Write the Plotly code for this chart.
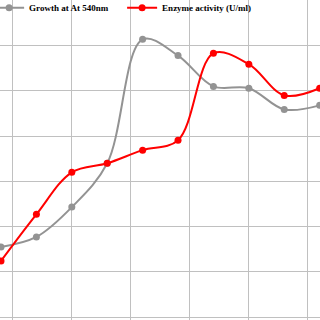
import plotly.graph_objects as go

hours = [0, 3, 6, 9, 12, 15, 18, 21, 24, 27]
growth = [1.55, 1.77, 2.43, 3.40, 6.14, 5.78, 5.10, 5.06, 4.59, 4.68]
enzyme = [1.24, 2.27, 3.20, 3.40, 3.69, 3.91, 5.83, 5.59, 4.90, 5.06]
series_names = ["Growth at At 540nm", "Enzyme activity (U/ml)"]

fig = go.Figure()
fig.add_trace(go.Scatter(
    x=hours, y=growth, name=series_names[0], mode="lines+markers",
    line=dict(color="#939393", width=2, shape="spline", smoothing=1.0),
    marker=dict(color="#939393", size=7),
))
fig.add_trace(go.Scatter(
    x=hours, y=enzyme, name=series_names[1], mode="lines+markers",
    line=dict(color="#ff0000", width=2, shape="spline", smoothing=1.0),
    marker=dict(color="#ff0000", size=7),
))

fig.update_layout(
    width=320, height=320,
    margin=dict(l=0, r=0, t=0, b=0, autoexpand=False),
    paper_bgcolor="white", plot_bgcolor="white",
    showlegend=True,
    legend=dict(
        orientation="h", x=-0.034, y=1.021, xanchor="left", yanchor="top",
        bgcolor="rgba(0,0,0,0)", borderwidth=0,
        font=dict(family="Liberation Serif", size=9, color="black", weight="bold"),
        entrywidth=88, entrywidthmode="pixels", tracegroupgap=0,
    ),
    xaxis=dict(
        range=[-0.085, 27.03], tick0=1, dtick=5, showgrid=True,
        gridcolor="#c0c0c0", gridwidth=1, zeroline=False,
        showticklabels=False, ticks="", showline=False, automargin=False,
    ),
    yaxis=dict(
        range=[-0.066, 7.01], tick0=0, dtick=1, showgrid=True,
        gridcolor="#c0c0c0", gridwidth=1, zeroline=False,
        showticklabels=False, ticks="", showline=False, automargin=False,
    ),
)

fig.write_html("out.html")
